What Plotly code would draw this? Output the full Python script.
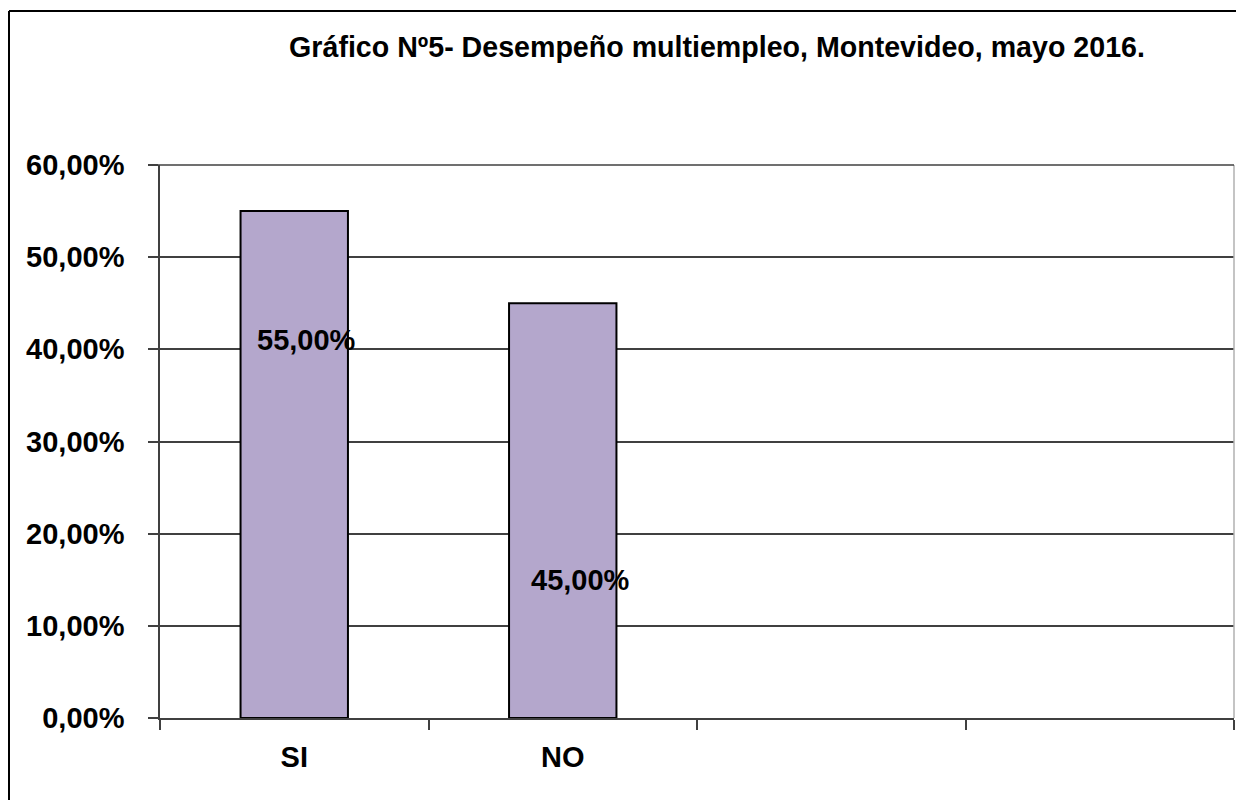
import plotly.graph_objects as go

categories = ["SI", "NO", " ", "  "]
bar_categories = ["SI", "NO"]
values = [0.55, 0.45]
label_texts = ["55,00%", "45,00%"]
y_tickvals = [0.0, 0.1, 0.2, 0.3, 0.4, 0.5, 0.6]
title_text = "Gráfico Nº5- Desempeño multiempleo, Montevideo, mayo 2016."

FONT = "Liberation Sans, Arial, sans-serif"
W, H = 1244, 800
OFF = 8  # page body margin
L, R, T, B = 160 - OFF, 1244 - (1234 - OFF), 165 - OFF, 800 - (718 - OFF)

fig = go.Figure()
fig.add_trace(go.Bar(
    x=bar_categories, y=values, width=0.4,
    marker=dict(color="#B4A7CC", line=dict(color="#000000", width=2)),
    hoverinfo="skip",
))

# data labels (placed as in the reference, inside the bars)
label_y = [0.41, 0.15]
label_shift = [12, 18]
for cat, yv, txt, sh in zip(bar_categories, label_y, label_texts, label_shift):
    fig.add_annotation(x=cat, y=yv, text="<b>" + txt + "</b>", showarrow=False,
                       xshift=sh, font=dict(family=FONT, size=29, color="#000000"))

pw = W - L - R
ph = H - T - B
# outer chart border: only the top and left edges are inside the picture
bx0 = (1 - L) / pw
by1 = (H - B - 3) / ph
fig.add_shape(type="line", xref="paper", yref="paper",
              x0=bx0, x1=(W - L) / pw, y0=by1, y1=by1,
              line=dict(color="#000000", width=2), layer="below")
fig.add_shape(type="line", xref="paper", yref="paper",
              x0=bx0, x1=bx0, y0=-(B + 30) / ph, y1=by1,
              line=dict(color="#000000", width=2), layer="below")
# light plot-area right edge
fig.add_shape(type="line", xref="paper", yref="paper", x0=1, x1=1, y0=0, y1=1,
              line=dict(color="#b0b0b0", width=1.5))
# top gridline with its outside tick
fig.add_shape(type="line", xref="paper", yref="paper", x0=-10 / pw, x1=1, y0=1, y1=1,
              line=dict(color="#404040", width=1.5))

fig.update_layout(
    width=W, height=H,
    margin=dict(l=L, r=R, t=T, b=B),
    paper_bgcolor="white", plot_bgcolor="white",
    separators=",.",
    showlegend=False,
    title=dict(text="<b>" + title_text + "</b>", x=(717 - OFF) / W, xanchor="center",
               y=1 - (47 - OFF) / H, yanchor="middle", xref="container", yref="container",
               font=dict(family=FONT, size=28.6, color="#000000")),
    xaxis=dict(type="category", categoryorder="array", categoryarray=categories,
               range=[-0.5, 3.5], tickson="boundaries", ticks="outside", ticklen=10,
               tickcolor="#404040", tickwidth=1.5,
               showline=True, linecolor="#404040", linewidth=1.5, showgrid=False,
               tickfont=dict(family=FONT, size=29, color="#000000", weight="bold"),
               ticklabelstandoff=12, fixedrange=True),
    yaxis=dict(range=[0, 0.6], tickvals=y_tickvals, tickformat=".2%",
               ticks="outside", ticklen=10, tickcolor="#404040", tickwidth=1.5,
               showline=True, linecolor="#404040", linewidth=1.5,
               showgrid=True, gridcolor="#404040", gridwidth=1.5, zeroline=False,
               tickfont=dict(family=FONT, size=29, color="#000000", weight="bold"),
               ticklabelstandoff=18, fixedrange=True),
)

fig.write_html("out.html")
